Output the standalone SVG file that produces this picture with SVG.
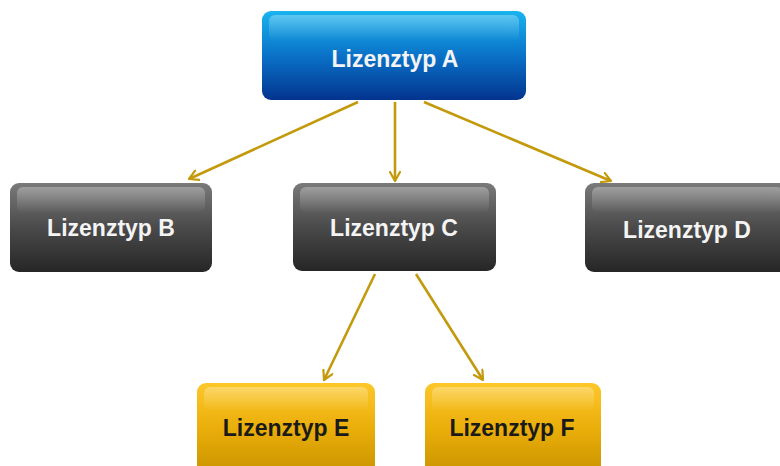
<svg xmlns="http://www.w3.org/2000/svg" width="780" height="466" viewBox="0 0 780 466">
<defs>
<linearGradient id="gBlue" x1="0" y1="0" x2="0" y2="1">
<stop offset="0" stop-color="#19b4ee"/><stop offset="0.5" stop-color="#0a72c8"/><stop offset="1" stop-color="#03348e"/>
</linearGradient>
<linearGradient id="gGray" x1="0" y1="0" x2="0" y2="1">
<stop offset="0" stop-color="#7a7a7a"/><stop offset="0.5" stop-color="#4a4a4a"/><stop offset="1" stop-color="#262626"/>
</linearGradient>
<linearGradient id="gGold" x1="0" y1="0" x2="0" y2="1">
<stop offset="0" stop-color="#fdc72a"/><stop offset="0.5" stop-color="#eaae0a"/><stop offset="1" stop-color="#c99300"/>
</linearGradient>
<linearGradient id="gHi" x1="0" y1="0" x2="0" y2="1">
<stop offset="0" stop-color="#fff" stop-opacity="0.3"/><stop offset="1" stop-color="#fff" stop-opacity="0"/>
</linearGradient>
<marker id="arr" viewBox="0 0 12 12" refX="10" refY="6" markerWidth="12" markerHeight="12" markerUnits="userSpaceOnUse" orient="auto">
<path d="M1,1 L10,6 L1,11" fill="none" stroke="#c39a0c" stroke-width="2.2" stroke-linecap="round" stroke-linejoin="round"/>
</marker>
</defs>
<style>
.lbl{font-family:"Liberation Sans",Arial,sans-serif;font-weight:bold;font-size:23px;text-anchor:middle;dominant-baseline:central}
.w{fill:#f4f4f4}
.d{fill:#1a1a1a}
.c{stroke:#c39a0c;stroke-width:2.6;fill:none;marker-end:url(#arr)}
.hi{fill:url(#gHi)}
</style>
<g id="connectors">
<line class="c" x1="358" y1="102" x2="189" y2="179"/>
<line class="c" x1="395" y1="102" x2="395" y2="181"/>
<line class="c" x1="424" y1="102" x2="611" y2="181"/>
<line class="c" x1="375" y1="274" x2="324" y2="380"/>
<line class="c" x1="416" y1="274" x2="483" y2="380"/>
</g>
<g id="nodeA">
<rect x="262" y="11" width="264" height="89" rx="9" fill="url(#gBlue)"/>
<rect x="269" y="15" width="250" height="26" rx="6" class="hi"/>
<text class="lbl w" x="395" y="59">Lizenztyp A</text>
</g>
<g id="nodeB">
<rect x="10" y="183" width="202" height="89" rx="9" fill="url(#gGray)"/>
<rect x="17" y="187" width="188" height="26" rx="6" class="hi"/>
<text class="lbl w" x="111" y="228">Lizenztyp B</text>
</g>
<g id="nodeC">
<rect x="293" y="183" width="203" height="88" rx="9" fill="url(#gGray)"/>
<rect x="300" y="187" width="189" height="26" rx="6" class="hi"/>
<text class="lbl w" x="394" y="228">Lizenztyp C</text>
</g>
<g id="nodeD">
<rect x="585" y="183" width="205" height="89" rx="9" fill="url(#gGray)"/>
<rect x="592" y="187" width="191" height="26" rx="6" class="hi"/>
<text class="lbl w" x="687" y="230">Lizenztyp D</text>
</g>
<g id="nodeE">
<rect x="197" y="383" width="178" height="92" rx="9" fill="url(#gGold)"/>
<rect x="204" y="387" width="164" height="24" rx="6" class="hi"/>
<text class="lbl d" x="286" y="428">Lizenztyp E</text>
</g>
<g id="nodeF">
<rect x="425" y="383" width="176" height="92" rx="9" fill="url(#gGold)"/>
<rect x="432" y="387" width="162" height="24" rx="6" class="hi"/>
<text class="lbl d" x="512" y="428">Lizenztyp F</text>
</g>
</svg>
